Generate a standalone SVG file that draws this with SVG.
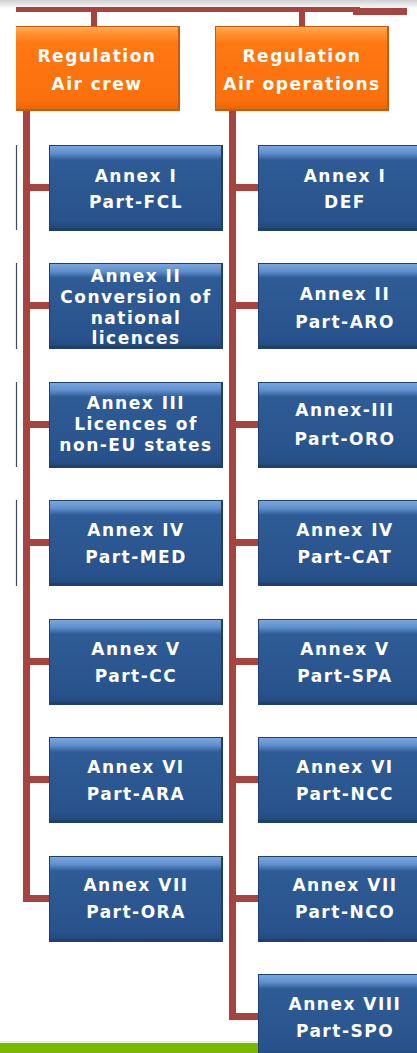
<svg xmlns="http://www.w3.org/2000/svg" width="417" height="1053" viewBox="0 0 417 1053">
<defs>
<linearGradient id="topShadow" x1="0" y1="0" x2="0" y2="1">
<stop offset="0" stop-color="#cfcfcf"/><stop offset="1" stop-color="#ffffff"/>
</linearGradient>
<linearGradient id="blueG" x1="0" y1="0" x2="0" y2="1">
<stop offset="0" stop-color="#7ba7de"/><stop offset="0.09" stop-color="#5f8fcd"/><stop offset="0.17" stop-color="#2f5c96"/><stop offset="0.9" stop-color="#28528b"/><stop offset="1" stop-color="#234a7e"/>
</linearGradient>
<linearGradient id="orangeG" x1="0" y1="0" x2="0" y2="1">
<stop offset="0" stop-color="#ffab55"/><stop offset="0.1" stop-color="#ff8d28"/><stop offset="0.2" stop-color="#ff7812"/><stop offset="0.9" stop-color="#fb700c"/><stop offset="1" stop-color="#e8660c"/>
</linearGradient>
<style>
.bo{fill:#1f406d}
.bi{fill:url(#blueG)}
.oo{fill:#c45c12}
.oi{fill:url(#orangeG)}
.t{font-family:"DejaVu Sans",Verdana,sans-serif;font-weight:bold;font-size:17px;fill:#ffffff;text-anchor:middle;letter-spacing:1.5px}
.c{fill:#a8443f}
.edge{stroke:#3a4a5c;stroke-width:1.2}
</style>
</defs>
<rect x="0" y="0" width="417" height="1053" fill="#ffffff"/>
<rect x="0" y="0" width="417" height="9" fill="url(#topShadow)"/>
<rect x="0" y="1043" width="258" height="10" fill="#7ab800"/>
<rect x="0" y="1041" width="258" height="2" fill="#e8f3d0"/>
<g id="edges">
<line class="edge" x1="16.5" y1="145" x2="16.5" y2="230"/>
<line class="edge" x1="16.5" y1="263" x2="16.5" y2="349"/>
<line class="edge" x1="16.5" y1="382" x2="16.5" y2="467"/>
<line class="edge" x1="16.5" y1="500" x2="16.5" y2="586"/>
</g>
<g id="connectors">
<rect class="c" x="16" y="7" width="344" height="5"/>
<rect class="c" x="353" y="8" width="54" height="7"/>
<rect class="c" x="91" y="11" width="6" height="16"/>
<rect class="c" x="299" y="11" width="6" height="16"/>
<rect class="c" x="23" y="109" width="7" height="792"/>
<rect class="c" x="229" y="109" width="7" height="911"/>
<rect class="c" x="26" y="184" width="24" height="7"/>
<rect class="c" x="26" y="302" width="24" height="7"/>
<rect class="c" x="26" y="421" width="24" height="7"/>
<rect class="c" x="26" y="539" width="24" height="7"/>
<rect class="c" x="26" y="658" width="24" height="7"/>
<rect class="c" x="26" y="776" width="24" height="7"/>
<rect class="c" x="23" y="895" width="27" height="7"/>
<rect class="c" x="232" y="184" width="27" height="7"/>
<rect class="c" x="232" y="302" width="27" height="7"/>
<rect class="c" x="232" y="421" width="27" height="7"/>
<rect class="c" x="232" y="539" width="27" height="7"/>
<rect class="c" x="232" y="658" width="27" height="7"/>
<rect class="c" x="232" y="776" width="27" height="7"/>
<rect class="c" x="232" y="895" width="27" height="7"/>
<rect class="c" x="229" y="1013" width="30" height="7"/>
</g>
<g id="reg-aircrew">
<rect class="oo" x="16" y="26" width="164" height="85"/>
<rect class="oi" x="16" y="27" width="162" height="82"/>
<text class="t" x="97" y="62">Regulation</text>
<text class="t" x="97" y="90">Air crew</text>
</g>
<g id="reg-airops">
<rect class="oo" x="215" y="26" width="174" height="85"/>
<rect class="oi" x="216" y="27" width="171" height="82"/>
<text class="t" x="302" y="62">Regulation</text>
<text class="t" x="302" y="90">Air operations</text>
</g>
<g id="l1"><rect class="bo" x="49" y="145" width="174" height="86"/><rect class="bi" x="50" y="146" width="171" height="82"/>
<text class="t" x="136" y="182">Annex I</text><text class="t" x="136" y="208">Part-FCL</text></g>
<g id="l2"><rect class="bo" x="49" y="263" width="174" height="86"/><rect class="bi" x="50" y="264" width="171" height="82"/>
<text class="t" x="136" y="282">Annex II</text><text class="t" x="136" y="303">Conversion of</text><text class="t" x="136" y="324">national</text><text class="t" x="136" y="344">licences</text></g>
<g id="l3"><rect class="bo" x="49" y="382" width="174" height="86"/><rect class="bi" x="50" y="383" width="171" height="82"/>
<text class="t" x="136" y="409">Annex III</text><text class="t" x="136" y="430">Licences of</text><text class="t" x="136" y="451">non-EU states</text></g>
<g id="l4"><rect class="bo" x="49" y="500" width="174" height="86"/><rect class="bi" x="50" y="501" width="171" height="82"/>
<text class="t" x="136" y="536">Annex IV</text><text class="t" x="136" y="563">Part-MED</text></g>
<g id="l5"><rect class="bo" x="49" y="619" width="174" height="86"/><rect class="bi" x="50" y="620" width="171" height="82"/>
<text class="t" x="136" y="655">Annex V</text><text class="t" x="136" y="682">Part-CC</text></g>
<g id="l6"><rect class="bo" x="49" y="737" width="174" height="86"/><rect class="bi" x="50" y="738" width="171" height="82"/>
<text class="t" x="136" y="773">Annex VI</text><text class="t" x="136" y="800">Part-ARA</text></g>
<g id="l7"><rect class="bo" x="49" y="856" width="174" height="86"/><rect class="bi" x="50" y="857" width="171" height="82"/>
<text class="t" x="136" y="891">Annex VII</text><text class="t" x="136" y="918">Part-ORA</text></g>
<g id="r1"><rect class="bo" x="258" y="145" width="174" height="86"/><rect class="bi" x="259" y="146" width="171" height="82"/>
<text class="t" x="345" y="182">Annex I</text><text class="t" x="345" y="208">DEF</text></g>
<g id="r2"><rect class="bo" x="258" y="263" width="174" height="86"/><rect class="bi" x="259" y="264" width="171" height="82"/>
<text class="t" x="345" y="300">Annex II</text><text class="t" x="345" y="328">Part-ARO</text></g>
<g id="r3"><rect class="bo" x="258" y="382" width="174" height="86"/><rect class="bi" x="259" y="383" width="171" height="82"/>
<text class="t" x="345" y="416">Annex-III</text><text class="t" x="345" y="445">Part-ORO</text></g>
<g id="r4"><rect class="bo" x="258" y="500" width="174" height="86"/><rect class="bi" x="259" y="501" width="171" height="82"/>
<text class="t" x="345" y="536">Annex IV</text><text class="t" x="345" y="563">Part-CAT</text></g>
<g id="r5"><rect class="bo" x="258" y="619" width="174" height="86"/><rect class="bi" x="259" y="620" width="171" height="82"/>
<text class="t" x="345" y="655">Annex V</text><text class="t" x="345" y="682">Part-SPA</text></g>
<g id="r6"><rect class="bo" x="258" y="737" width="174" height="86"/><rect class="bi" x="259" y="738" width="171" height="82"/>
<text class="t" x="345" y="773">Annex VI</text><text class="t" x="345" y="800">Part-NCC</text></g>
<g id="r7"><rect class="bo" x="258" y="856" width="174" height="86"/><rect class="bi" x="259" y="857" width="171" height="82"/>
<text class="t" x="345" y="891">Annex VII</text><text class="t" x="345" y="918">Part-NCO</text></g>
<g id="r8"><rect class="bo" x="258" y="974" width="174" height="86"/><rect class="bi" x="259" y="975" width="171" height="82"/>
<text class="t" x="345" y="1010">Annex VIII</text><text class="t" x="345" y="1037">Part-SPO</text></g>
</svg>
